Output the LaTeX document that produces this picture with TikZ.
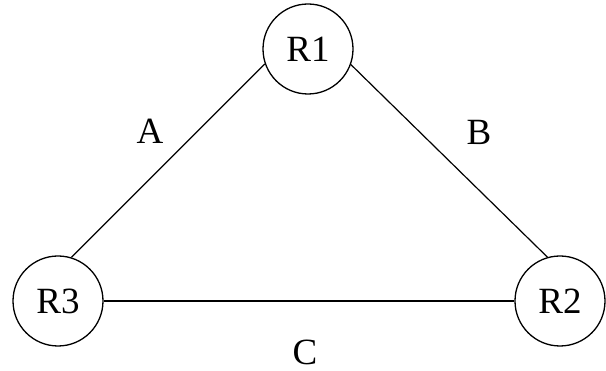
\documentclass[tikz,border=0pt]{standalone}
\usepackage{fontspec}
\setmainfont{Liberation Serif}
\usepackage{tikz}
\usetikzlibrary{positioning}

\begin{document}
\begin{tikzpicture}[x=1pt,y=-1pt,
    router/.style={draw=black,circle,line width=1.3pt,minimum size=90pt,
      inner sep=0pt,font=\fontsize{37}{40}\selectfont},
    link/.style={line width=1.2pt},
    linklabel/.style={inner sep=0pt,font=\fontsize{37}{40}\selectfont}
  ]
    \useasboundingbox (0,0) rectangle (606,371);

    \node[router] (r1) at (308,49) {R1};
    \node[router] (r2) at (560,301) {R2};
    \node[router] (r3) at (58,301) {R3};

    \draw[link] (r1.199) -- (r3.73);
    \draw[link] (r1.340) -- (r2.106);
    \draw[link] (r3.east) -- (r2.west);

    \node[linklabel] (la) at (150,131) {A};
    \node[linklabel] (lb) at (479,132) {B};
    \node[linklabel] (lc) at (305,352) {C};
  \end{tikzpicture}
\end{document}
